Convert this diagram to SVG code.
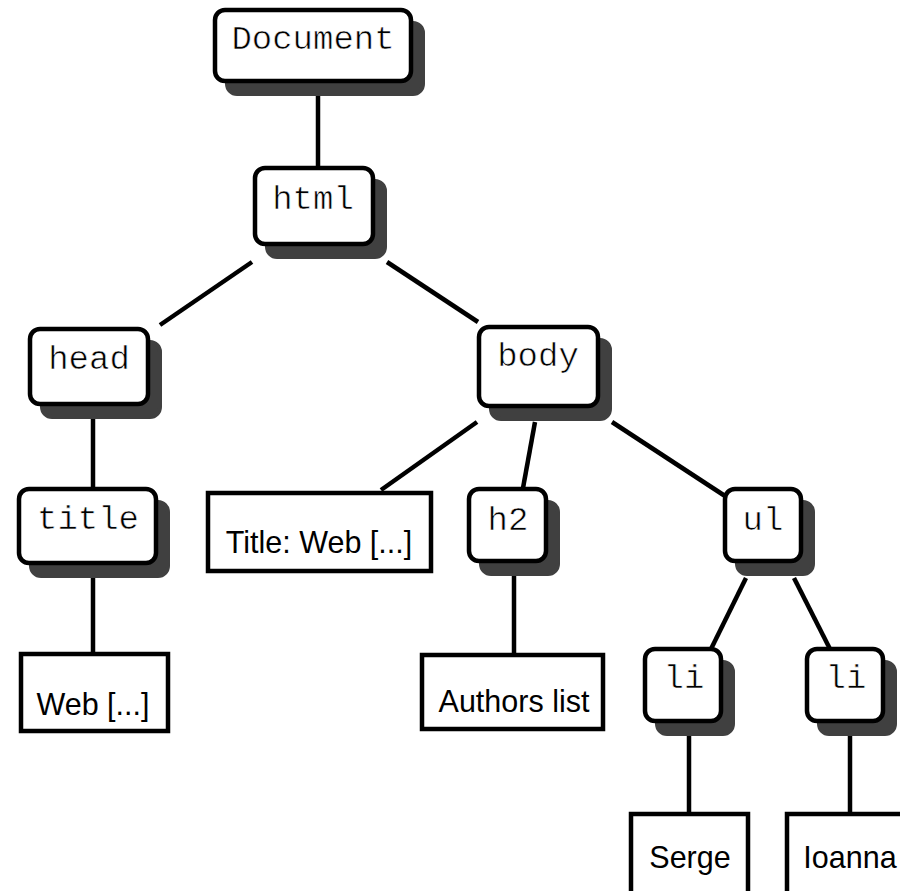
<svg xmlns="http://www.w3.org/2000/svg" width="900" height="891" viewBox="0 0 900 891">
<style>
.sh{fill:#404040;stroke:#404040;stroke-width:4}
.bx{fill:#fff;stroke:#000;stroke-width:4.5}
.mono{font-family:"Liberation Mono","Courier New",monospace;font-size:34px;fill:#000;text-anchor:middle;stroke:#fff;stroke-width:0.6px}
.sans{font-family:"Liberation Sans",Arial,sans-serif;font-size:30.5px;fill:#000;text-anchor:middle}
.ln{stroke:#000;stroke-width:4.5;fill:none}
</style>
<rect width="900" height="891" fill="#fff"/>
<g id="connectors">
<line class="ln" x1="318" y1="96" x2="318" y2="168"/>
<line class="ln" x1="252" y1="262" x2="160" y2="325"/>
<line class="ln" x1="387" y1="262" x2="478" y2="322"/>
<line class="ln" x1="93" y1="418" x2="93" y2="487"/>
<line class="ln" x1="93" y1="578" x2="93" y2="652"/>
<line class="ln" x1="477" y1="422" x2="381" y2="490"/>
<line class="ln" x1="535" y1="422" x2="523" y2="488"/>
<line class="ln" x1="612" y1="422" x2="725" y2="496"/>
<line class="ln" x1="514" y1="576" x2="514" y2="653"/>
<line class="ln" x1="746" y1="578" x2="711" y2="649"/>
<line class="ln" x1="794" y1="578" x2="830" y2="649"/>
<line class="ln" x1="689" y1="735" x2="689" y2="812"/>
<line class="ln" x1="850" y1="735" x2="850" y2="812"/>
</g>
<g id="document">
<rect class="sh" x="227" y="23" width="196" height="71" rx="10"/>
<rect class="bx" x="215" y="10" width="196" height="71" rx="10"/>
<text class="mono" x="313" y="49">Document</text>
</g>
<g id="html">
<rect class="sh" x="267" y="181" width="118" height="76" rx="10"/>
<rect class="bx" x="255" y="168" width="118" height="76" rx="10"/>
<text class="mono" x="313" y="209">html</text>
</g>
<g id="head">
<rect class="sh" x="42" y="342" width="118" height="75" rx="10"/>
<rect class="bx" x="30" y="329" width="118" height="75" rx="10"/>
<text class="mono" x="89" y="369">head</text>
</g>
<g id="body">
<rect class="sh" x="491" y="340" width="119" height="79" rx="10"/>
<rect class="bx" x="479" y="327" width="119" height="79" rx="10"/>
<text class="mono" x="538" y="366">body</text>
</g>
<g id="title">
<rect class="sh" x="31" y="502" width="137" height="74" rx="10"/>
<rect class="bx" x="19" y="489" width="137" height="74" rx="10"/>
<text class="mono" x="88" y="529">title</text>
</g>
<g id="title-text">
<rect class="bx" x="208" y="493" width="223" height="78"/>
<text class="sans" x="319" y="553">Title: Web [...]</text>
</g>
<g id="h2">
<rect class="sh" x="481" y="502" width="77" height="72" rx="10"/>
<rect class="bx" x="469" y="489" width="77" height="72" rx="10"/>
<text class="mono" x="508" y="530">h2</text>
</g>
<g id="ul">
<rect class="sh" x="737" y="502" width="76" height="72" rx="10"/>
<rect class="bx" x="725" y="489" width="76" height="72" rx="10"/>
<text class="mono" x="763" y="530">ul</text>
</g>
<g id="web-text">
<rect class="bx" x="21" y="654" width="147" height="77"/>
<text class="sans" x="93" y="715">Web [...]</text>
</g>
<g id="authors-text">
<rect class="bx" x="422" y="655" width="181" height="74"/>
<text class="sans" x="514" y="712">Authors list</text>
</g>
<g id="li1">
<rect class="sh" x="657" y="662" width="76" height="72" rx="10"/>
<rect class="bx" x="645" y="649" width="76" height="72" rx="10"/>
<text class="mono" x="684" y="688">li</text>
</g>
<g id="li2">
<rect class="sh" x="819" y="662" width="76" height="72" rx="10"/>
<rect class="bx" x="807" y="649" width="76" height="72" rx="10"/>
<text class="mono" x="846" y="688">li</text>
</g>
<g id="serge-text">
<rect class="bx" x="631" y="814" width="117" height="100"/>
<text class="sans" x="690" y="868">Serge</text>
</g>
<g id="ioanna-text">
<rect class="bx" x="787" y="814" width="150" height="100"/>
<text class="sans" x="850" y="868">Ioanna</text>
</g>
</svg>
